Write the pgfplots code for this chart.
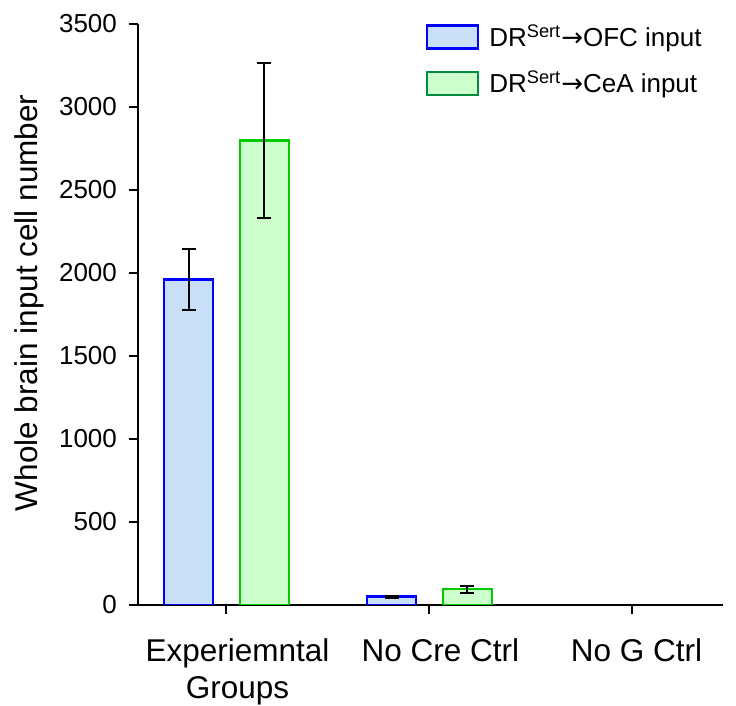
\documentclass[border=0pt]{standalone}
\usepackage{pgfplots}
\pgfplotsset{compat=1.18}
\usepackage{fontspec}
\setmainfont{Liberation Sans}
\newfontfamily\dejavu{DejaVu Sans}
\usetikzlibrary{calc}

\definecolor{bfill}{RGB}{201,222,247}
\definecolor{bedge}{RGB}{0,0,255}
\definecolor{gfill}{RGB}{204,255,204}
\definecolor{gedge}{RGB}{0,204,0}
\definecolor{gedgeleg}{RGB}{0,140,60}

% bars placed at category -0.187 (OFC) and +0.187 (CeA)
\pgfplotstableread{
x y e
-0.187 1962 185
0.813 50 7
}\ofc
\pgfplotstableread{
x y e
0.187 2797 468
1.187 95 22
}\cea

\begin{document}
\begin{tikzpicture}
\begin{axis}[
  name=ax,
  scale only axis, width=292.5pt, height=290.5pt,
  xmin=-0.436, xmax=2.446, ymin=0, ymax=3500,
  axis x line*=bottom, axis y line*=left,
  axis line style={black, line width=1pt},
  tick style={black, line width=1pt},
  tick align=outside, major tick length=4.5pt,
  xtick={0,1,2},
  xticklabels={{Experiemntal\\Groups},{No Cre Ctrl},{\kern-7pt No G Ctrl}},
  xticklabel style={align=center, font=\fontsize{15.75}{18.5}\selectfont, xshift=5.5pt, yshift=-9pt},
  ytick={0,500,...,3500},
  /pgf/number format/assume math mode=true,
  /pgf/number format/set thousands separator={},
  yticklabel style={font=\fontsize{13}{15.6}\selectfont, xshift=-2.5pt},
  ylabel={Whole brain input cell number},
  ylabel style={font=\fontsize{15.75}{18}\selectfont, at={(axis description cs:-0.186,0.52)}, anchor=center},
  legend style={at={(axis description cs:0.4915,1.003)}, anchor=north west, draw=none, fill=none,
    font=\fontsize{13}{15.6}\selectfont, row sep=9pt, inner sep=0pt, legend cell align=left,
    nodes={inner sep=1pt}, /tikz/every even column/.append style={column sep=0pt}},
  legend image code/.code={\draw[#1] (0pt,-5.75pt) rectangle (25.5pt,5.75pt);},
]
\addplot[ybar, bar width=0.241, bar shift=0, fill=bfill, draw=bedge, line width=1.2pt, forget plot,
  error bars/.cd, y dir=both, y explicit,
  error bar style={black, line width=1pt},
  error mark options={rotate=90, black, mark size=3.5pt, line width=1pt}]
  table[x=x, y=y, y error=e] {\ofc};
\addplot[ybar, bar width=0.241, bar shift=0, fill=gfill, draw=gedge, line width=1.2pt, forget plot,
  error bars/.cd, y dir=both, y explicit,
  error bar style={black, line width=1pt},
  error mark options={rotate=90, black, mark size=3.5pt, line width=1pt}]
  table[x=x, y=y, y error=e] {\cea};
\addlegendimage{fill=bfill, draw=bedge, line width=1.2pt}
\addlegendentry{\hspace{4pt}DR\textsuperscript{Sert}{\dejavu →}OFC input}
\addlegendimage{fill=gfill, draw=gedgeleg, line width=1.2pt}
\addlegendentry{\hspace{4pt}DR\textsuperscript{Sert}{\dejavu →}CeA input}
\end{axis}
\pgfresetboundingbox
\path ($(ax.south west)+(-69pt,-50.5pt)$) rectangle ($(ax.north east)+(6.5pt,12pt)$);
\end{tikzpicture}
\end{document}
